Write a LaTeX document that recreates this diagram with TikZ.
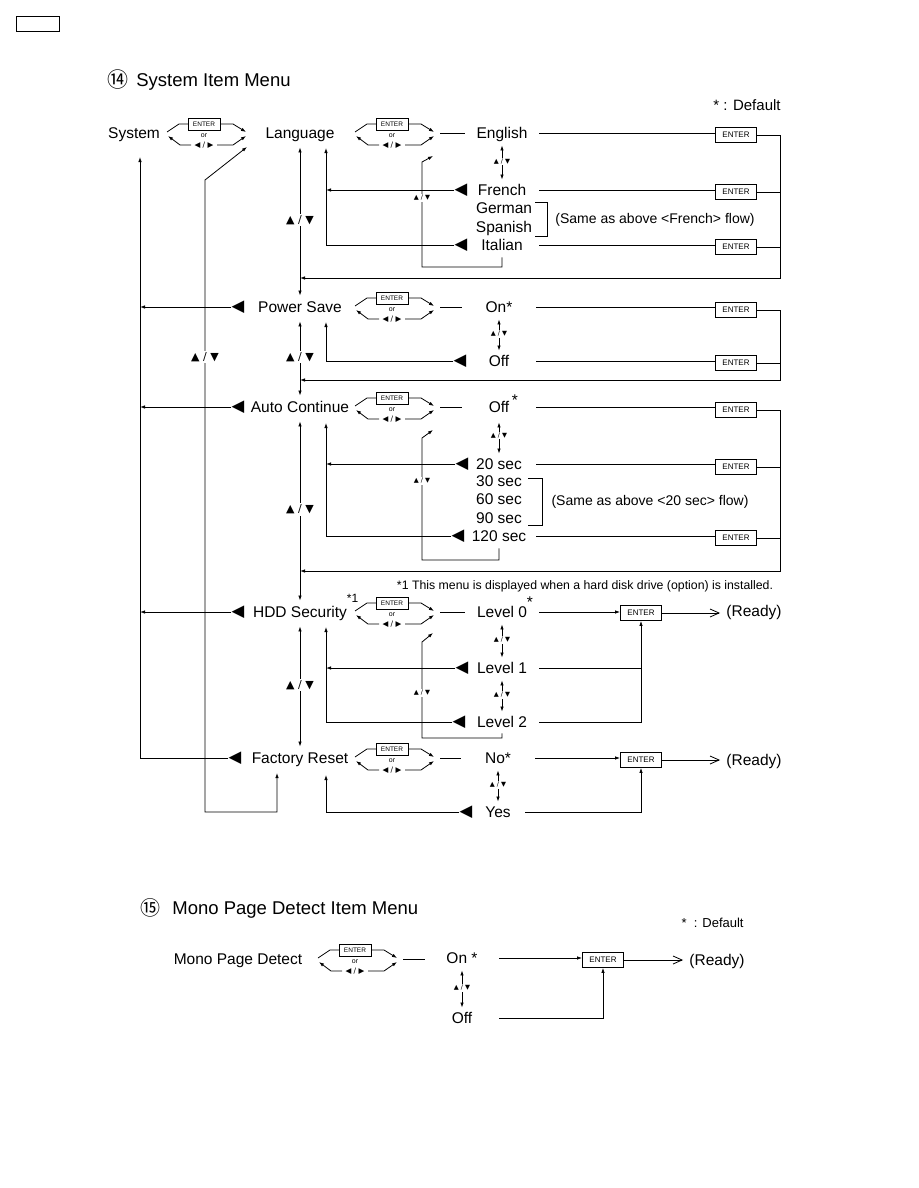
\documentclass[tikz,border=0pt]{standalone}
\usepackage{fontspec}
\setmainfont{Liberation Sans}
\newfontfamily\symfont{DejaVu Sans}
\newfontfamily\cjkfont{Noto Sans CJK JP}
\usetikzlibrary{arrows.meta,calc}
\newcommand\fs[1]{\fontsize{#1}{#1}\selectfont}

\tikzset{
  >={Latex[length=5pt,width=3.5pt]},
  lbl/.style={font=\fs{15.5}, inner sep=0pt, text height=12.6pt, text depth=1.5pt},
  menu/.style={lbl},
  val/.style={lbl, minimum width=74pt},
  note/.style={font=\fs{14}, inner sep=0pt, text height=11.5pt, text depth=1.5pt},
  fnote/.style={font=\fs{12.3}, inner sep=0pt, text height=10.3pt, text depth=1.5pt},
  title/.style={font=\fs{18.5}, inner sep=0pt, text height=14.7pt, text depth=1.5pt},
  tri/.style={font=\symfont\fs{16.5}, inner sep=0pt},
  ebox/.style={draw, font=\fs{8}, minimum width=41pt, minimum height=15pt, inner sep=0pt},
  selbox/.style={draw, font=\fs{6.5}, minimum width=32pt, minimum height=12pt, inner sep=0pt},
  tiny/.style={font=\fs{7}, inner sep=0pt},
  ud/.style={font=\symfont\fs{11}, fill=white, inner sep=1.5pt},
  sud/.style={font=\symfont\fs{6.5}, fill=white, inner sep=1pt},
  updn/.style={<->, shorten <=5pt, shorten >=3pt},
  menuv/.style={<->, shorten <=7pt, shorten >=4pt},
  ready/.style={-{Straight Barb[length=9pt,width=8pt]}, shorten >=6pt},
  pics/sel/.style={code={
    \node[selbox] (-box) at (0,-9) {ENTER};
    \node[tiny] (-or) at (0,3) {or};
    \node[tiny, font=\symfont\fs{7.5}] (-lr) at (0,12) {◀ / ▶};
    \coordinate (-r) at (43,0);
    \draw (-16,-9) -- (-25,-9) -- (-37,-1);
    \draw[->] (-13,12) -- (-24,12) -- (-36,3);
    \draw[->] (16,-9) -- (29,-9) -- (42,-1);
    \draw[->] (13,12) -- (29,12) -- (42,3);
  }},
}

\begin{document}
\begin{tikzpicture}[x=1pt, y=-1pt, line width=0.8pt]
  \useasboundingbox (0,0) rectangle (918,1188);
  \draw (16,16) rectangle (59,31);

  % system item menu
  \node[font=\cjkfont\fs{21}, inner sep=0pt] (n14) at (118,80) {⑭};
  \node[title, anchor=west] (t14) at (136,80) {System Item Menu};
  \node[lbl, font=\fs{15}, anchor=east] (def14) at (781,105) {* : Default};

  \node[menu] (sys) at (134,133) {System};
  \pic (sysS) at (204,133) {sel};
  \node[menu] (lang) at (300,133) {Language};
  \pic (langS) at (392,133) {sel};

  % language
  \node[val] (en) at (502,133) {English};
  \node[ebox] (enE) at (736,135) {ENTER};
  \node[tri] (frT) at (461,190) {◀};
  \node[val] (fr) at (502,190) {French};
  \node[ebox] (frE) at (736,192) {ENTER};
  \node[lbl] (ge) at (504,208) {German};
  \node[lbl] (sp) at (504,227) {Spanish};
  \node[note] (same1) at (655,218) {(Same as above <French> flow)};
  \node[tri] (itT) at (461,245) {◀};
  \node[val] (it) at (502,245) {Italian};
  \node[ebox] (itE) at (736,247) {ENTER};
  \coordinate (lgR) at (780,278);
  \coordinate (lgU) at (326,148);
  \coordinate (lgLp) at (433,156);

  \draw ([xshift=5pt]langS-r) -- (langS-r -| en.west);
  \draw (en.east) -- (en.east -| enE.west);
  \draw (fr.east) -- (fr.east -| frE.west);
  \draw (it.east) -- (it.east -| itE.west);
  \draw[->] (enE.east) -| (lgR) -- (lgR -| lang);
  \draw (frE.east) -- (frE.east -| lgR);
  \draw (itE.east) -- (itE.east -| lgR);
  \draw (535,202) -- (547,202) -- (547,236) -- (535,236);
  \draw[updn] (en.south) -- node[sud] {▲ / ▼} (fr.north);
  \draw[->] (frT.west) -- (frT.west -| lgU);
  \draw[->] (itT.west) -| (lgU);
  \draw[->] (it.south) ++(0,5) |- (422,267) -- (422,162) -- (lgLp);
  \node[sud] at (422,198) {▲ / ▼};

  % power save
  \node[tri] (psT) at (238,307) {◀};
  \node[menu] (ps) at (300,307) {Power Save};
  \pic (psS) at (392,307) {sel};
  \node[val] (on) at (499,307) {On*};
  \node[ebox] (onE) at (736,310) {ENTER};
  \node[tri] (offT) at (460,361) {◀};
  \node[val] (off) at (499,361) {Off};
  \node[ebox] (offE) at (736,363) {ENTER};
  \coordinate (psR) at (780,380);
  \coordinate (psU) at (326,322);

  \draw ([xshift=5pt]psS-r) -- (psS-r -| on.west);
  \draw (on.east) -- (on.east -| onE.west);
  \draw (off.east) -- (off.east -| offE.west);
  \draw[->] (onE.east) -| (psR) -- (psR -| ps);
  \draw (offE.east) -- (offE.east -| psR);
  \draw[updn] (on.south) -- node[sud] {▲ / ▼} (off.north);
  \draw[->] (offT.west) -| (psU);

  % auto continue
  \node[tri] (acT) at (238,407) {◀};
  \node[menu] (ac) at (300,407) {Auto Continue};
  \pic (acS) at (392,407) {sel};
  \node[val] (acoff) at (499,407) {Off\rlap{\,\raisebox{7pt}{*}}};
  \node[ebox] (acoffE) at (736,410) {ENTER};
  \node[tri] (s20T) at (462,464) {◀};
  \node[val] (s20) at (499,464) {20 sec};
  \node[ebox] (s20E) at (736,467) {ENTER};
  \node[lbl] (s30) at (499,481) {30 sec};
  \node[lbl] (s60) at (499,499) {60 sec};
  \node[lbl] (s90) at (499,518) {90 sec};
  \node[note] (same2) at (650,500) {(Same as above <20 sec> flow)};
  \node[tri] (s120T) at (458,536) {◀};
  \node[val] (s120) at (499,536) {120 sec};
  \node[ebox] (s120E) at (736,538) {ENTER};
  \coordinate (acR) at (780,571);
  \coordinate (acU) at (326,423);
  \coordinate (acLp) at (433,430);

  \draw ([xshift=5pt]acS-r) -- (acS-r -| acoff.west);
  \draw (acoff.east) -- (acoff.east -| acoffE.west);
  \draw (s20.east) -- (s20.east -| s20E.west);
  \draw (s120.east) -- (s120.east -| s120E.west);
  \draw[->] (acoffE.east) -| (acR) -- (acR -| ac);
  \draw (s20E.east) -- (s20E.east -| acR);
  \draw (s120E.east) -- (s120E.east -| acR);
  \draw (528,478) -- (542,478) -- (542,525) -- (528,525);
  \draw[updn, shorten <=8pt] (acoff.south) -- node[sud] {▲ / ▼} (s20.north);
  \draw[->] (s20T.west) -- (s20T.west -| acU);
  \draw[->] (s120T.west) -| (acU);
  \draw[->] (s120.south) ++(0,5) |- (422,560) -- (422,438) -- (acLp);
  \node[sud] at (422,481) {▲ / ▼};

  \node[fnote] (fn) at (585,585) {*1 This menu is displayed when a hard disk drive (option) is installed.};

  % hdd security
  \node[tri] (hddT) at (238,612) {◀};
  \node[menu] (hdd) at (300,612) {HDD Security\rlap{\fs{12}\raisebox{15pt}{*1}}};
  \pic (hddS) at (392,612) {sel};
  \node[val] (lv0) at (502,612) {Level 0\rlap{\raisebox{10pt}{*}}};
  \node[ebox] (lv0E) at (641,613) {ENTER};
  \node[lbl] (rdy1) at (754,611) {(Ready)};
  \node[tri] (lv1T) at (462,668) {◀};
  \node[val] (lv1) at (502,668) {Level 1};
  \node[tri] (lv2T) at (459,722) {◀};
  \node[val] (lv2) at (502,722) {Level 2};
  \coordinate (hdU) at (326,627);
  \coordinate (hdLp) at (433,633);

  \draw ([xshift=5pt]hddS-r) -- (hddS-r -| lv0.west);
  \draw[->] (lv0.east) -- (lv0.east -| lv0E.west);
  \draw[ready] (lv0E.east) -- (lv0E.east -| rdy1.west);
  \draw (lv1.east) -- (lv1.east -| lv0E);
  \draw[->] (lv2.east) -| (lv0E.south);
  \draw[updn] (lv0.south) -- node[sud] {▲ / ▼} (lv1.north);
  \draw[updn] (lv1.south) -- node[sud] {▲ / ▼} (lv2.north);
  \draw[->] (lv1T.west) -- (lv1T.west -| hdU);
  \draw[->] (lv2T.west) -| (hdU);
  \draw[->] (lv2.south) ++(0,4) |- (422,738) -- (422,642) -- (hdLp);
  \node[sud] at (422,693) {▲ / ▼};

  % factory reset
  \node[tri] (frsT) at (235,758) {◀};
  \node[menu] (frs) at (300,758) {Factory Reset};
  \pic (frsS) at (392,758) {sel};
  \node[val] (no) at (498,758) {No*};
  \node[ebox] (noE) at (641,760) {ENTER};
  \node[lbl] (rdy2) at (754,760) {(Ready)};
  \node[tri] (yesT) at (466,812) {◀};
  \node[val, minimum width=54pt] (yes) at (498,812) {Yes};
  \coordinate (frU) at (326,775);

  \draw ([xshift=5pt]frsS-r) -- (frsS-r -| no.west);
  \draw[->] (no.east) -- (no.east -| noE.west);
  \draw[ready] (noE.east) -- (noE.east -| rdy2.west);
  \draw[->] (yes.east) -| (noE.south);
  \draw[updn] (no.south) -- node[sud] {▲ / ▼} (yes.north);
  \draw[->] (yesT.west) -| (frU);

  % menu column
  \draw[menuv] (lang.south) -- node[ud] {▲ / ▼} (ps.north);
  \draw[menuv] (ps.south) -- node[ud] {▲ / ▼} (ac.north);
  \draw[menuv] (ac.south) -- node[ud] {▲ / ▼} (hdd.north);
  \draw[menuv] (hdd.south) -- node[ud] {▲ / ▼} (frs.north);

  % back to system
  \coordinate (sysU) at (140,157);
  \coordinate (sysB) at (247,147);
  \coordinate (frsB) at (277,773);
  \draw[->] (frsT.west) -| (sysU);
  \draw[->] (psT.west) -- (psT.west -| sysU);
  \draw[->] (acT.west) -- (acT.west -| sysU);
  \draw[->] (hddT.west) -- (hddT.west -| sysU);
  \draw[<->] (frsB) |- (205,812) -- (205,180) -- (sysB);
  \node[ud] at (205,357) {▲ / ▼};

  % mono page detect item menu
  \node[font=\cjkfont\fs{20}, inner sep=0pt] (n15) at (150,908) {⑮};
  \node[title, anchor=west] (t15) at (172,908) {Mono Page Detect Item Menu};
  \node[lbl, font=\fs{13}, anchor=east] (def15) at (744,922) {*\ \ : Default};

  \node[menu] (mpd) at (238,959) {Mono Page Detect};
  \pic (mpdS) at (355,959) {sel};
  \node[val] (mon) at (462,958) {On *};
  \node[ebox] (monE) at (603,960) {ENTER};
  \node[lbl] (rdy3) at (717,960) {(Ready)};
  \node[val] (moff) at (462,1018) {Off};

  \draw ([xshift=5pt]mpdS-r) -- (mpdS-r -| mon.west);
  \draw[->] (mon.east) -- (mon.east -| monE.west);
  \draw[ready] (monE.east) -- (monE.east -| rdy3.west);
  \draw[->] (moff.east) -| (monE.south);
  \draw[updn] (mon.south) -- node[sud] {▲ / ▼} (moff.north);
\end{tikzpicture}
\end{document}
